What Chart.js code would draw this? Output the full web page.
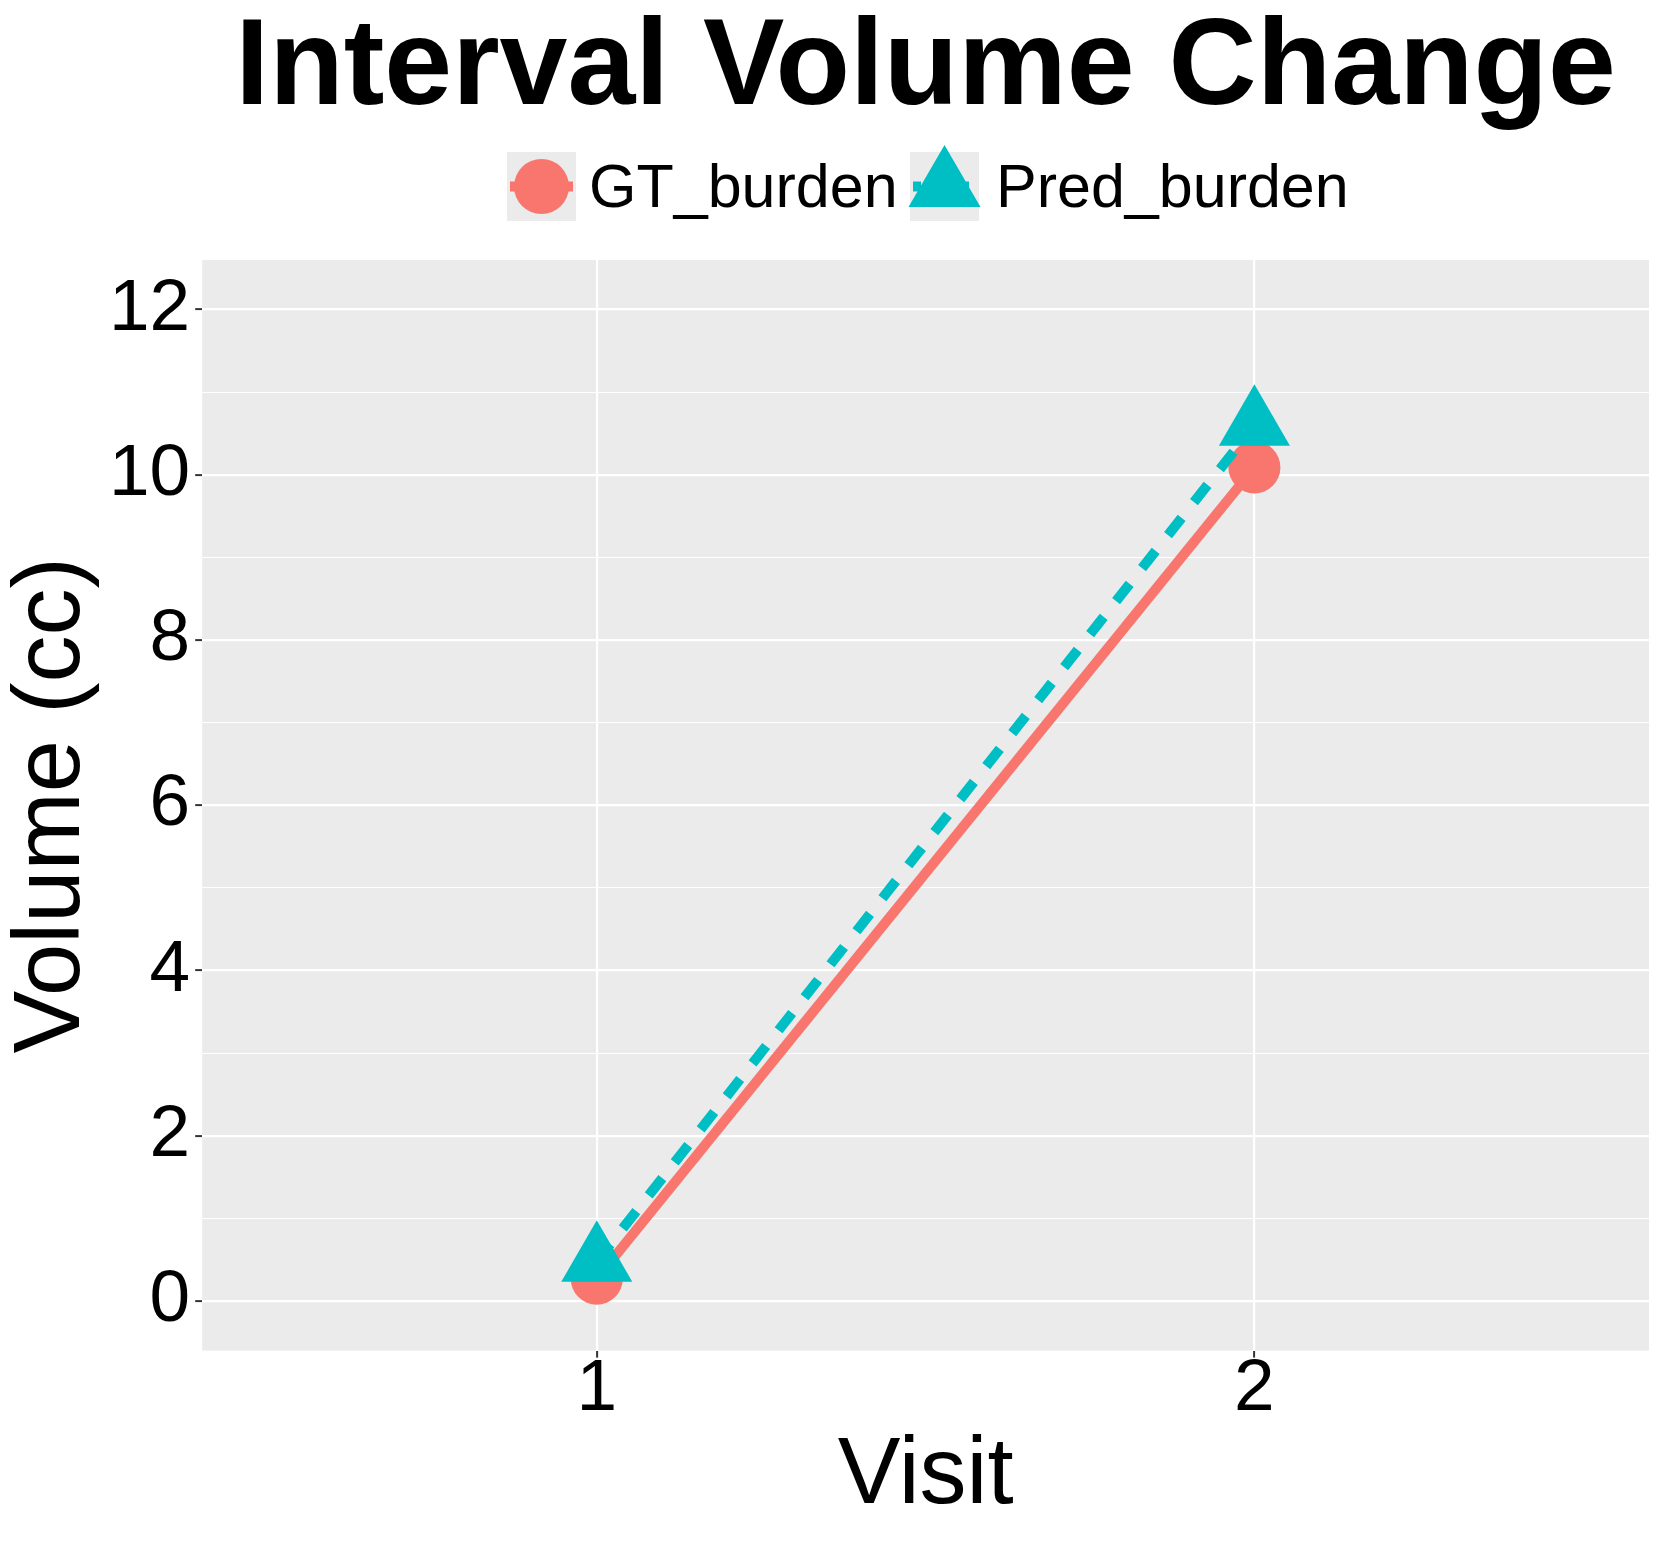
<!DOCTYPE html>
<html>
<head>
<meta charset="utf-8">
<script src="https://cdn.jsdelivr.net/npm/chart.js@4.4.1/dist/chart.umd.min.js"></script>
<style>
    html, body { margin: 0; padding: 0; background: #fff; }
    canvas { display: block; }
</style>
</head>
<body>
<canvas id="chart" width="1661" height="1542"></canvas>
<script>
// --- DATA ---
const visits = [1, 2];
const gtBurden = [0.27, 10.09];
const predBurden = [0.48, 10.6];
const yTicks = [0, 1, 2, 3, 4, 5, 6, 7, 8, 9, 10, 11, 12];
const seriesNames = ['GT_burden', 'Pred_burden'];

const FONT = '"Liberation Sans", Arial, Helvetica, sans-serif';
const RED = '#F8766D';
const TEAL = '#00BFC4';

const toPoints = (vals) => visits.map((v, i) => ({ x: v, y: vals[i] }));

// panel background + title + legend
const decor = {
    id: 'decor',
    beforeDraw(chart) {
        const { ctx, chartArea: a } = chart;
        ctx.save();
        ctx.fillStyle = '#EBEBEB';
        ctx.fillRect(a.left, a.top, a.right - a.left, a.bottom - a.top);
        ctx.restore();
    },
    afterDraw(chart) {
        const { ctx, chartArea: a } = chart;
        ctx.save();
        // title
        ctx.fillStyle = '#000';
        ctx.font = `bold 122px ${FONT}`;
        ctx.textAlign = 'center';
        ctx.textBaseline = 'alphabetic';
        ctx.fillText('Interval Volume Change', (a.left + a.right) / 2, 104);

        // legend
        const keys = [
            { x: 507, text: seriesNames[0], tx: 589 },
            { x: 910, text: seriesNames[1], tx: 996 }
        ];
        keys.forEach((k, i) => {
            const ds = chart.data.datasets[i];
            ctx.fillStyle = '#EBEBEB';
            ctx.fillRect(k.x, 152, 69, 69);
            const cx = k.x + 34.5, cy = 186.5;
            ctx.strokeStyle = ds.borderColor;
            ctx.lineWidth = 10;
            ctx.setLineDash(ds.borderDash ? [8, 8] : []);
            ctx.beginPath();
            ctx.moveTo(k.x + 3, cy);
            ctx.lineTo(k.x + 66, cy);
            ctx.stroke();
            ctx.setLineDash([]);
            ctx.fillStyle = ds.pointBackgroundColor;
            ctx.beginPath();
            if (ds.pointStyle === 'triangle') {
                ctx.moveTo(cx, 145);
                ctx.lineTo(cx + 36, 207);
                ctx.lineTo(cx - 36, 207);
                ctx.closePath();
            } else {
                ctx.arc(cx, cy, 27.5, 0, Math.PI * 2);
            }
            ctx.fill();
            ctx.fillStyle = '#000';
            ctx.font = `61px ${FONT}`;
            ctx.textAlign = 'left';
            ctx.fillText(k.text, k.tx, 207);
        });
        ctx.restore();
    }
};

const isMajor = (v) => v % 2 === 0;

new Chart(document.getElementById('chart'), {
    type: 'line',
    data: {
        datasets: [
            {
                label: seriesNames[0],
                data: toPoints(gtBurden),
                borderColor: RED,
                backgroundColor: RED,
                pointBackgroundColor: RED,
                borderWidth: 10,
                pointStyle: 'circle',
                pointRadius: 26,
                pointBorderWidth: 0,
                order: 2
            },
            {
                label: seriesNames[1],
                data: toPoints(predBurden),
                borderColor: TEAL,
                backgroundColor: TEAL,
                pointBackgroundColor: TEAL,
                borderWidth: 10,
                borderDash: [22, 20],
                pointStyle: 'triangle',
                pointRadius: 41,
                pointBorderWidth: 0,
                order: 1
            }
        ]
    },
    options: {
        responsive: false,
        animation: false,
        devicePixelRatio: 1,
        layout: { autoPadding: false, padding: { top: 260, right: 12, bottom: 10, left: 0 } },
        plugins: {
            legend: { display: false },
            tooltip: { enabled: false }
        },
        scales: {
            x: {
                type: 'linear',
                min: 0.4,
                max: 2.6,
                afterBuildTicks: (scale) => { scale.ticks = visits.map(v => ({ value: v })); },
                afterFit: (scale) => { scale.paddingLeft = 0; scale.paddingRight = 0; },
                border: { display: false },
                grid: {
                    color: '#FFFFFF',
                    lineWidth: 2.2,
                    tickColor: '#333333',
                    tickLength: 7,
                    tickWidth: 2
                },
                ticks: {
                    color: '#000',
                    font: { family: FONT, size: 73, lineHeight: 0.8 },
                    padding: 3,
                    maxRotation: 0,
                    callback: (v) => String(v)
                },
                title: {
                    display: true,
                    text: 'Visit',
                    color: '#000',
                    font: { family: FONT, size: 94, lineHeight: 1 },
                    padding: { top: 8, bottom: 8 }
                }
            },
            y: {
                min: -0.6,
                max: 12.6,
                afterBuildTicks: (scale) => { scale.ticks = yTicks.map(v => ({ value: v })); },
                border: { display: false },
                grid: {
                    color: '#FFFFFF',
                    lineWidth: (c) => isMajor(c.tick.value) ? 2.2 : 1.1,
                    tickColor: (c) => isMajor(c.tick.value) ? '#333333' : 'rgba(0,0,0,0)',
                    tickLength: 7,
                    tickWidth: 2
                },
                ticks: {
                    color: '#000',
                    font: { family: FONT, size: 73, lineHeight: 1 },
                    padding: 5,
                    callback: (v) => isMajor(v) ? String(v) : ''
                },
                title: {
                    display: true,
                    text: 'Volume (cc)',
                    color: '#000',
                    font: { family: FONT, size: 94, lineHeight: 1 },
                    padding: { top: 6, bottom: 4 }
                }
            }
        }
    },
    plugins: [decor]
});
</script>
</body>
</html>
